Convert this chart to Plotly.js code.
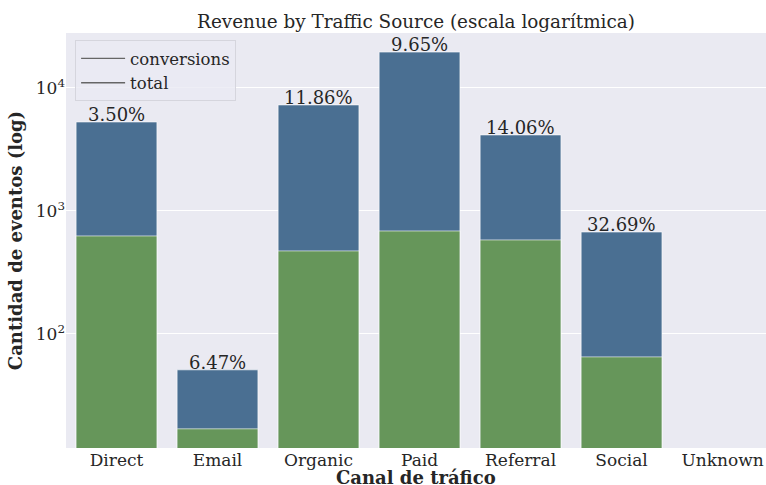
<!DOCTYPE html>
<html>
<head>
<meta charset="utf-8">
<script src="https://cdn.plot.ly/plotly-3.0.1.min.js"></script>
<style>html,body{margin:0;padding:0;background:#fff;}#chart{width:766px;height:485px;}</style>
</head>
<body>
<div id="chart"></div>
<script>
const categories = ["Direct", "Email", "Organic", "Paid", "Referral", "Social", "Unknown"];
const totalValues = [5290, 51, 7280, 19600, 4150, 674, null];
const conversionValues = [626, 16.9, 473, 687, 581, 65, null];
const rateLabels = ["3.50%", "6.47%", "11.86%", "9.65%", "14.06%", "32.69%", ""];
const yTickVals = [100, 1000, 10000];
const yTickText = ["10<sup>2</sup>", "10<sup>3</sup>", "10<sup>4</sup>"];

const font = "DejaVu Serif, serif";
const blue = "#4a6f92";
const green = "#66965a";
const ink = "#262626";

const traces = [
  {type: "bar", x: categories, y: totalValues, marker: {color: blue, line: {color: "rgba(255,255,255,0.6)", width: 1}},
   width: 0.8, showlegend: false, hoverinfo: "x+y"},
  {type: "bar", x: categories, y: conversionValues, marker: {color: green, line: {color: "rgba(255,255,255,0.6)", width: 1}},
   width: 0.8, showlegend: false, hoverinfo: "x+y"},
  {type: "scatter", mode: "lines", x: [null], y: [null], name: "conversions", line: {color: "#666666", width: 1.3}},
  {type: "scatter", mode: "lines", x: [null], y: [null], name: "total", line: {color: "#666666", width: 1.3}}
];

const annotations = categories.map((c, i) => totalValues[i] == null ? null : ({
  x: c, y: Math.log10(totalValues[i]), xref: "x", yref: "y", text: rateLabels[i], showarrow: false,
  yanchor: "bottom", yshift: -5, font: {family: font, size: 18, color: ink}
})).filter(a => a);

annotations.push({
  text: "<b>Canal de tráfico</b>", xref: "paper", yref: "paper", x: 0.5, y: (448 - 477) / 415,
  xanchor: "center", yanchor: "middle", showarrow: false, font: {family: font, size: 18, color: ink}
});

const layout = {
  width: 766, height: 485,
  margin: {l: 66, r: 0, t: 33, b: 37},
  paper_bgcolor: "#ffffff",
  plot_bgcolor: "#eaeaf2",
  barmode: "overlay",
  font: {family: font, color: ink, size: 17},
  title: {text: "Revenue by Traffic Source (escala logarítmica)", font: {family: font, size: 18.4, color: ink},
          x: 0.5, xref: "paper", y: 0.955, yanchor: "middle"},
  xaxis: {type: "category", range: [-0.5, 6.43], showgrid: false, zeroline: false, showline: false, ticks: "",
          tickfont: {family: font, size: 17, color: ink}, automargin: false},
  yaxis: {type: "log", range: [Math.log10(11.8), Math.log10(28000)], tickvals: yTickVals, ticktext: yTickText,
          showgrid: true, gridcolor: "#ffffff", gridwidth: 1, zeroline: false, showline: false, ticks: "",
          tickfont: {family: font, size: 17, color: ink},
          title: {text: "<b>Cantidad de eventos (log)</b>", font: {family: font, size: 18, color: ink}, standoff: 8},
          automargin: false},
  legend: {x: 0.013, y: 0.983, xanchor: "left", yanchor: "top", bgcolor: "rgba(234,234,242,0.8)",
           bordercolor: "#d5d5dd", borderwidth: 1, font: {family: font, size: 16.5, color: ink},
           tracegroupgap: 0, itemwidth: 44},
  annotations: annotations,
  showlegend: true
};

Plotly.newPlot("chart", traces, layout, {displayModeBar: false, staticPlot: true});
</script>
</body>
</html>
